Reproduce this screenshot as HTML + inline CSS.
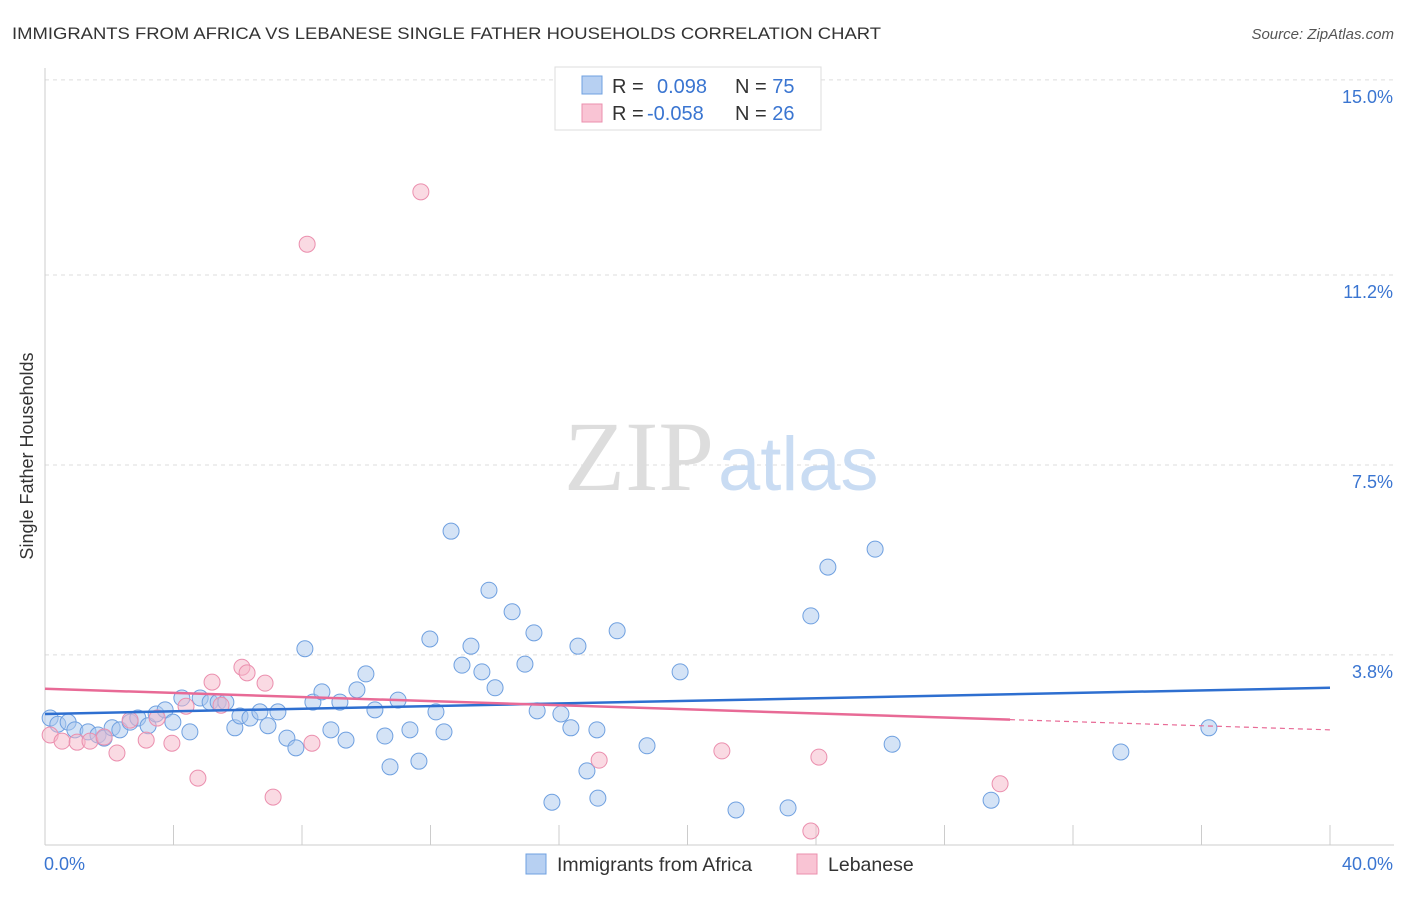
<!DOCTYPE html>
<html><head><meta charset="utf-8"><style>
body{margin:0;background:#fff;font-family:"Liberation Sans",sans-serif}
</style></head><body>
<svg width="1406" height="892" xmlns="http://www.w3.org/2000/svg" font-family="Liberation Sans, sans-serif">
<text x="12" y="39" font-size="17" fill="#333" textLength="869" lengthAdjust="spacingAndGlyphs">IMMIGRANTS FROM AFRICA VS LEBANESE SINGLE FATHER HOUSEHOLDS CORRELATION CHART</text>
<text x="1394" y="39" font-size="15" fill="#555" font-style="italic" text-anchor="end">Source: ZipAtlas.com</text>
<g id="grid"></g>
<text x="714" y="490" font-size="100" fill="#ddd" text-anchor="end" font-family="Liberation Serif, serif">ZIP</text>
<text x="718" y="490" font-size="76" fill="#c9dcf3">atlas</text>
<text x="33" y="456" font-size="18" fill="#333" text-anchor="middle" transform="rotate(-90 33 456)">Single Father Households</text>
<g id="axes"></g>
<g id="points"></g>
<g id="trends"></g>
<g>
<rect x="555" y="67" width="266" height="63" fill="#fff" stroke="#ddd"/>
<rect x="582" y="76" width="20" height="18" fill="#b7d0f2" stroke="#6fa0e0"/>
<rect x="582" y="104" width="20" height="18" fill="#f9c4d4" stroke="#eb8fae"/>
<text x="612" y="93" font-size="20" fill="#333">R = <tspan fill="#3a75d1" x="657">0.098</tspan><tspan x="735" fill="#333">N = </tspan><tspan fill="#3a75d1">75</tspan></text>
<text x="612" y="120" font-size="20" fill="#333">R = <tspan fill="#3a75d1" x="647">-0.058</tspan><tspan x="735" fill="#333">N = </tspan><tspan fill="#3a75d1">26</tspan></text>
</g>
<g>
<rect x="526" y="854" width="20" height="20" fill="#b7d0f2" stroke="#6fa0e0"/>
<text x="557" y="871" font-size="19.5" fill="#333">Immigrants from Africa</text>
<rect x="797" y="854" width="20" height="20" fill="#f9c4d4" stroke="#eb8fae"/>
<text x="828" y="871" font-size="19.5" fill="#333">Lebanese</text>
</g>
</svg>
<script>
const yTicks=[3.8,7.5,11.2,15.0];
const yTickLabels=["3.8%","7.5%","11.2%","15.0%"];
const xTicks=[0,4,8,12,16,20,24,28,32,36,40];
const xTickLabels=["0.0%","40.0%"];
const blueX=[0.16,0.40,0.72,0.93,1.34,1.65,1.84,2.09,2.33,2.65,2.89,3.21,3.46,3.74,3.98,4.26,4.51,4.83,5.14,5.39,5.63,5.91,6.07,6.38,6.69,6.94,7.25,7.53,7.81,8.09,8.34,8.62,8.90,9.18,9.37,9.71,9.99,10.27,10.58,10.74,10.99,11.36,11.64,11.98,12.17,12.42,12.64,12.98,13.26,13.60,13.82,14.01,14.54,14.94,15.22,15.32,15.78,16.06,16.37,16.59,16.87,17.18,17.21,17.81,18.74,19.77,21.51,23.13,23.84,24.37,25.84,26.37,29.45,33.49,36.23];
const blueY=[2.57,2.45,2.49,2.34,2.30,2.24,2.18,2.38,2.34,2.49,2.57,2.42,2.65,2.73,2.49,2.96,2.30,2.96,2.88,2.88,2.88,2.38,2.61,2.57,2.69,2.42,2.69,2.18,1.99,3.92,2.88,3.08,2.34,2.88,2.14,3.12,3.43,2.73,2.22,1.62,2.92,2.34,1.73,4.11,2.69,2.30,6.21,3.60,3.97,3.47,5.06,3.16,4.64,3.62,4.23,2.71,0.93,2.65,2.38,3.97,1.54,2.34,1.01,4.27,2.03,3.47,0.78,0.82,4.56,5.51,5.86,2.06,0.97,1.91,2.38];
const pinkX=[0.16,0.53,1.00,1.40,1.84,2.24,2.65,3.15,3.49,3.95,4.39,4.76,5.20,5.48,6.13,6.29,6.85,7.10,8.16,8.31,11.70,17.25,21.07,24.09,23.84,29.73];
const pinkY=[2.24,2.12,2.10,2.12,2.20,1.89,2.53,2.14,2.57,2.08,2.80,1.40,3.27,2.82,3.56,3.45,3.25,1.03,11.80,2.08,12.82,1.75,1.93,1.81,0.37,1.29];
const blueTrend=[2.65,3.16];
const pinkTrend=[3.14,2.34];
const pinkSolidEnd=30.04;
const NS="http://www.w3.org/2000/svg";
const sx=v=>45+v*32.125, sy=v=>850-v*51.34;
function mk(tag,attrs,parent){const e=document.createElementNS(NS,tag);for(const k in attrs)e.setAttribute(k,attrs[k]);document.getElementById(parent).appendChild(e);return e;}
yTicks.forEach((t,i)=>{
 const l=mk('line',{x1:45,x2:1394,y1:sy(t),y2:sy(t),stroke:'#ddd','stroke-dasharray':'4,4'},'grid');
 
 
 const tx=mk('text',{x:1393,y:sy(t)+23,'font-size':18,fill:'#3a75d1','text-anchor':'end'},'grid');
 tx.textContent=yTickLabels[i];
 
 
});
let a=mk('line',{x1:45,x2:45,y1:68,y2:845,stroke:'#ccc'},'axes');


a=mk('line',{x1:45,x2:1394,y1:845,y2:845,stroke:'#ccc'},'axes');


xTicks.forEach(t=>{const l=mk('line',{x1:sx(t),x2:sx(t),y1:825,y2:845,stroke:'#ccc'},'axes');
 
 });
[[0,'start',44],[40,'end',1393]].forEach((d,i)=>{const tx=mk('text',{x:d[2],y:870,'font-size':18,fill:'#3a75d1','text-anchor':d[1]},'axes');tx.textContent=xTickLabels[i];
 
 });
function pts(X,Y,fill,stroke,name){X.forEach((x,i)=>{const c=mk('circle',{cx:sx(x),cy:sy(Y[i]),r:8,fill:fill,'fill-opacity':0.5,stroke:stroke,'stroke-width':1},'points');
 
 });}
pts(blueX,blueY,'#a9c8ee','#6fa0e0','africa-point');
pts(pinkX,pinkY,'#f5b5c8','#eb8fae','lebanese-point');
let t=mk('line',{x1:sx(0),y1:sy(blueTrend[0]),x2:sx(40),y2:sy(blueTrend[1]),stroke:'#2e6fd0','stroke-width':2.5},'trends');


const pAt=x=>pinkTrend[0]+(pinkTrend[1]-pinkTrend[0])*x/40;
t=mk('line',{x1:sx(0),y1:sy(pinkTrend[0]),x2:sx(pinkSolidEnd),y2:sy(pAt(pinkSolidEnd)),stroke:'#e86a96','stroke-width':2.5},'trends');


t=mk('line',{x1:sx(pinkSolidEnd),y1:sy(pAt(pinkSolidEnd)),x2:sx(40),y2:sy(pinkTrend[1]),stroke:'#e86a96','stroke-width':1.2,'stroke-dasharray':'5,4'},'trends');


</script>
</body></html>
